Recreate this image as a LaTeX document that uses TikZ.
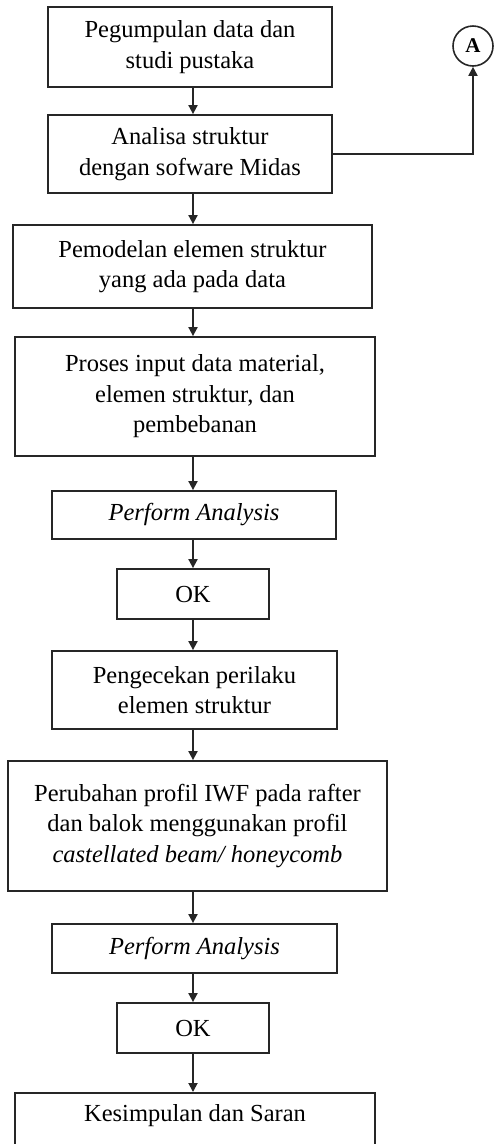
\documentclass[tikz,border=0pt]{standalone}
\usepackage{fontspec}
\setmainfont{Liberation Serif}
\usepackage{tikz}
\usetikzlibrary{arrows.meta}
\tikzset{
    flow-box/.style = {draw=black!85, line width=1.8pt, rectangle, align=center, inner sep=0pt, font=\fontsize{24.5}{30.5}\selectfont},
    flow-link/.style = {draw=black!85, line width=1.8pt, -{Triangle[length=9pt,width=9pt]}},
    connector-circle/.style = {draw=black!85, line width=1.6pt, circle, minimum size=40pt, inner sep=0pt, font=\fontsize{21}{24}\selectfont\bfseries},
}

\begin{document}
\begin{tikzpicture}[x=1pt, y=-1pt]
\useasboundingbox (0,0) rectangle (495,1144);
\coordinate (spine) at (193,0);
\node [flow-box, minimum width=284pt, minimum height=80pt] (pustaka) at (190,47) {Pegumpulan data dan\\studi pustaka};
\node [flow-box, minimum width=284pt, minimum height=78pt] (midas) at (190,154) {Analisa struktur\\dengan sofware Midas};
\node [connector-circle] (A) at (473,46) {A};
\node [flow-box, minimum width=359pt, minimum height=83pt] (model) at (192.5,266.5) {Pemodelan elemen struktur\\yang ada pada data};
\node [flow-box, minimum width=360pt, minimum height=119pt] (input) at (195,396.5) {Proses input data material,\\elemen struktur, dan\\pembebanan};
\node [flow-box, minimum width=284pt, minimum height=48pt] (analysis1) at (194,515) {\itshape Perform Analysis};
\node [flow-box, minimum width=152pt, minimum height=50pt] (ok1) at (193,594) {OK};
\node [flow-box, minimum width=285pt, minimum height=78pt] (cek) at (194.5,690) {Pengecekan perilaku\\elemen struktur};
\node [flow-box, minimum width=379pt, minimum height=130pt] (profil) at (197.5,826) {Perubahan profil IWF pada rafter\\dan balok menggunakan profil\\\itshape castellated beam/ honeycomb};
\node [flow-box, minimum width=285pt, minimum height=49pt] (analysis2) at (194.5,948.5) {\itshape Perform Analysis};
\node [flow-box, minimum width=152pt, minimum height=50pt] (ok2) at (193,1028) {OK};
\node [flow-box, minimum width=360pt, minimum height=80pt, anchor=north] (saran) at (195,1092) {Kesimpulan dan Saran\\\strut};

% alur utama
\draw [flow-link] (pustaka.south -| spine) -- (midas.north -| spine);
\draw [flow-link] (midas.south -| spine) -- (model.north -| spine);
\draw [flow-link] (model.south -| spine) -- (input.north -| spine);
\draw [flow-link] (input.south -| spine) -- (analysis1.north -| spine);
\draw [flow-link] (analysis1.south -| spine) -- (ok1.north -| spine);
\draw [flow-link] (ok1.south -| spine) -- (cek.north -| spine);
\draw [flow-link] (cek.south -| spine) -- (profil.north -| spine);
\draw [flow-link] (profil.south -| spine) -- (analysis2.north -| spine);
\draw [flow-link] (analysis2.south -| spine) -- (ok2.north -| spine);
\draw [flow-link] (ok2.south -| spine) -- (saran.north -| spine);
% ke konektor A
\draw [flow-link] (midas.east) -| (A.south);
\end{tikzpicture}
\end{document}
